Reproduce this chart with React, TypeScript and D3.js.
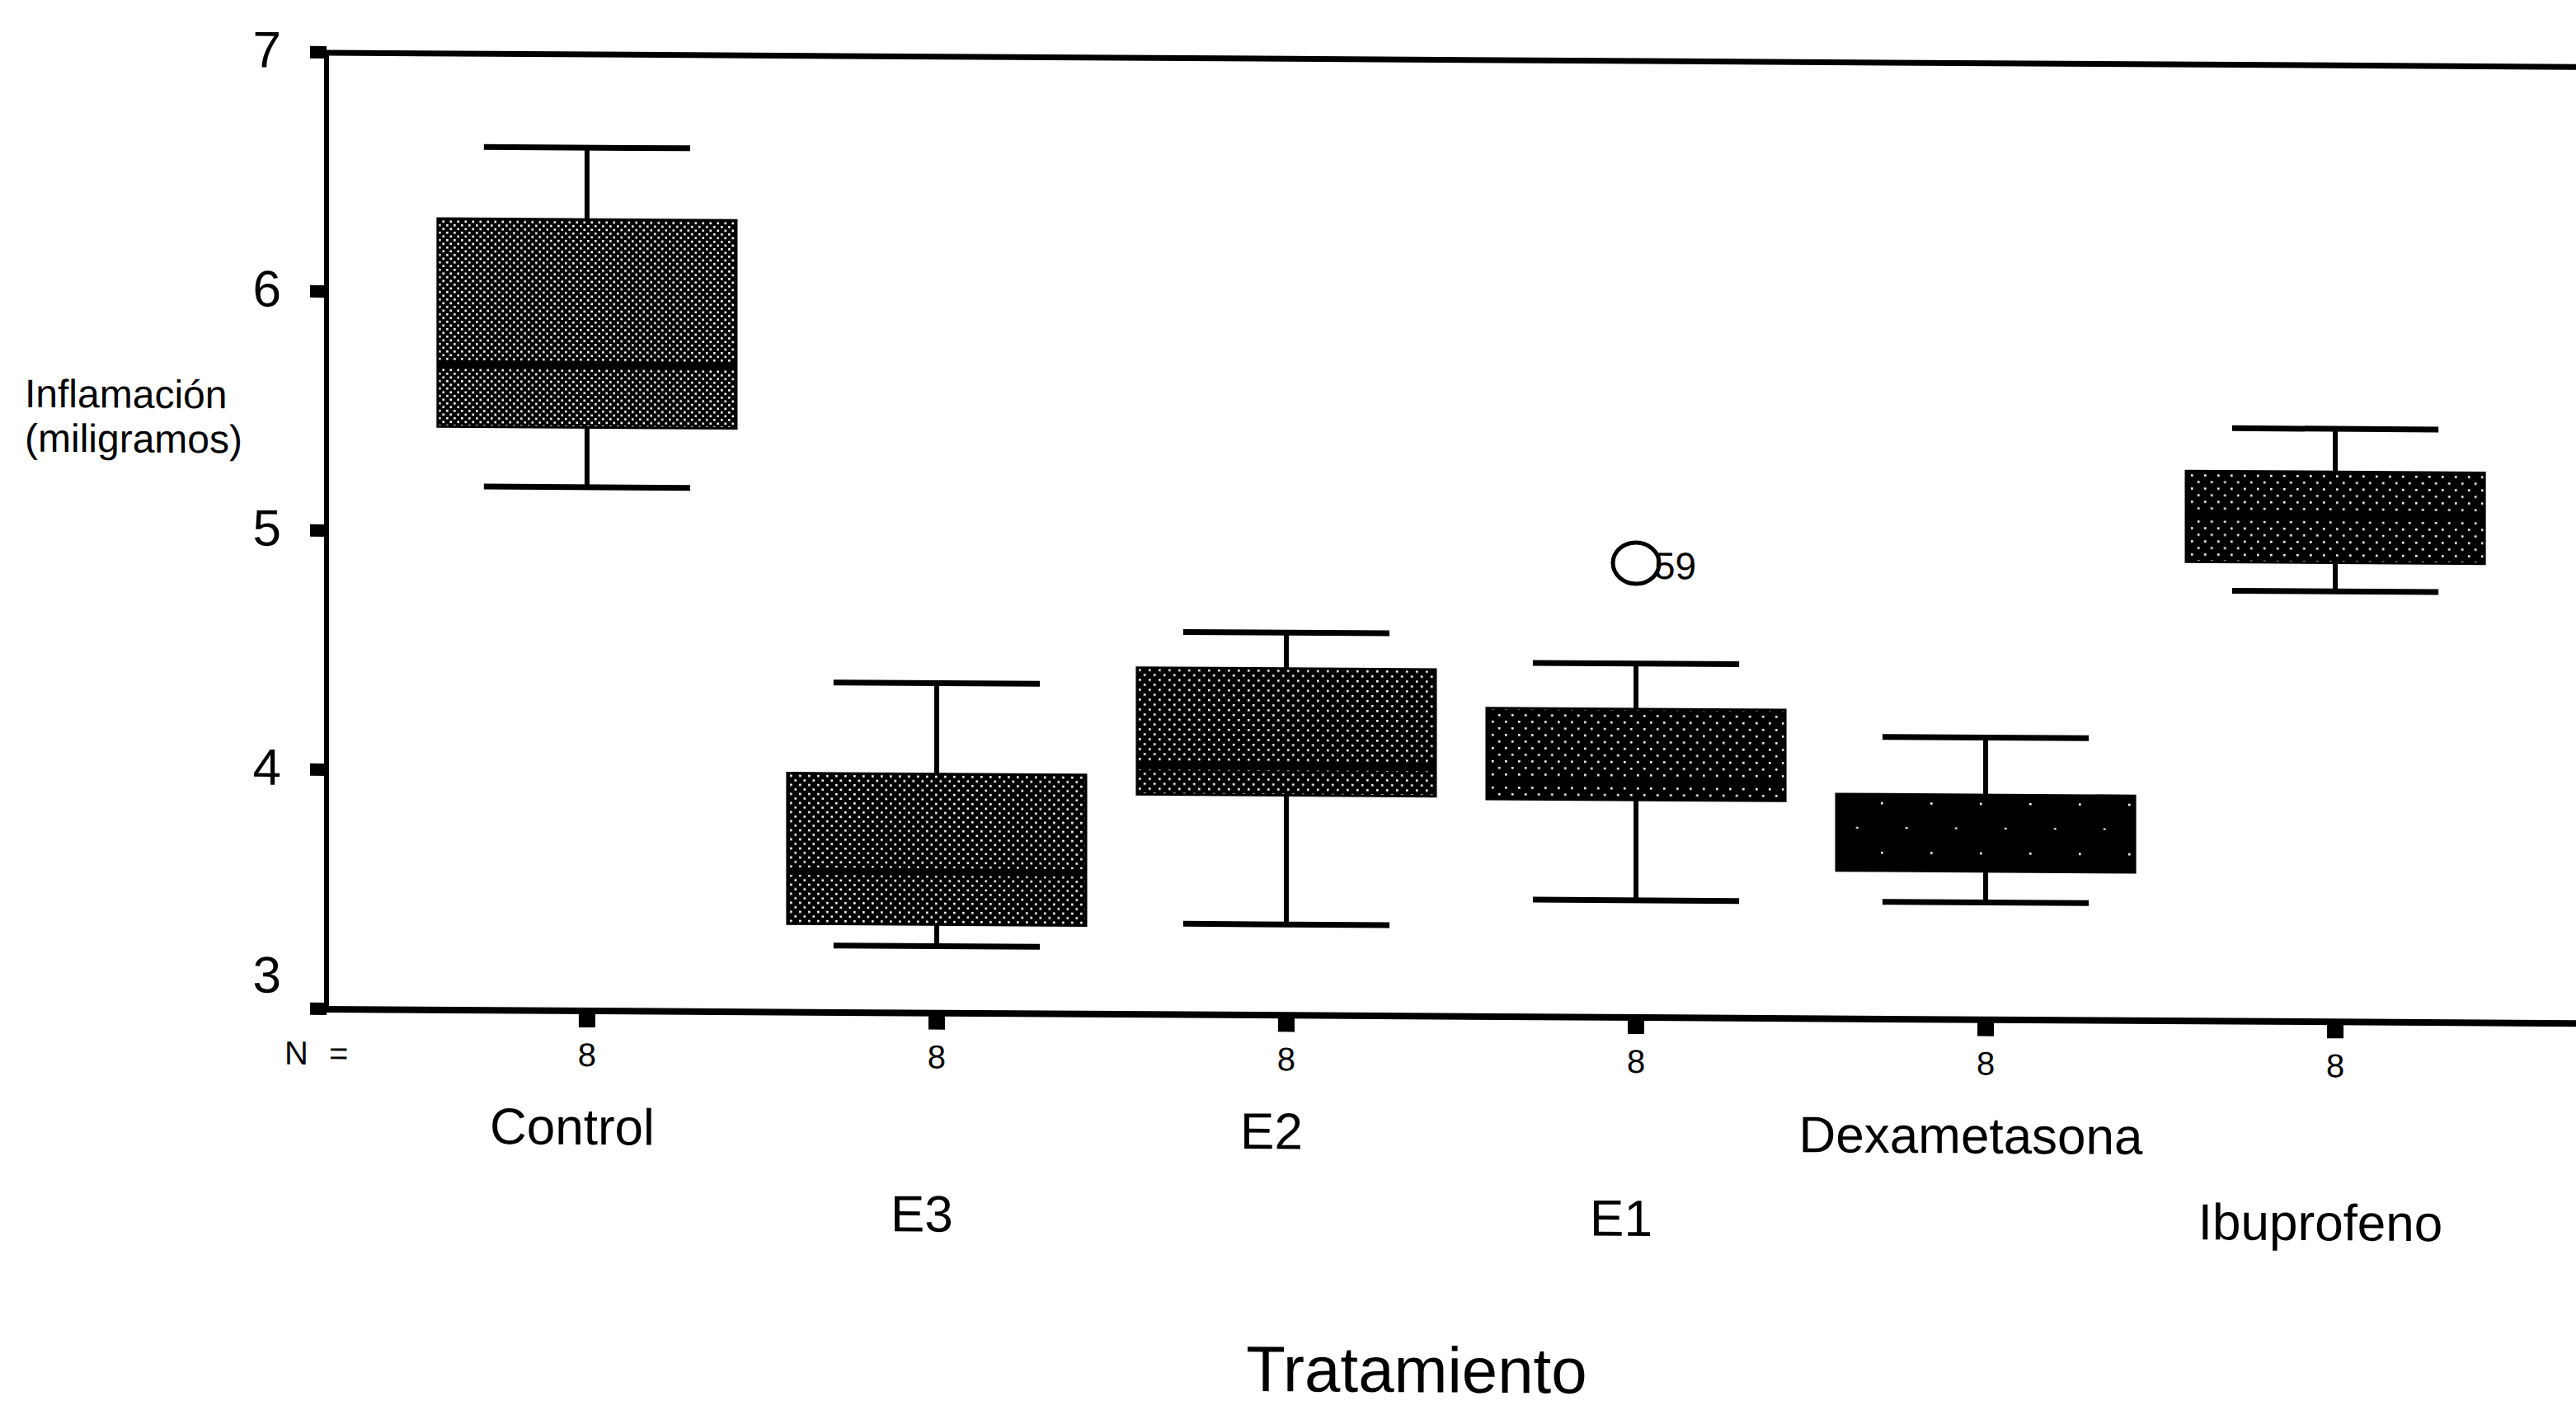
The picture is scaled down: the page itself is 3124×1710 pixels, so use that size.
import React from 'react'
import { scaleLinear, scalePoint } from 'd3'

// SPSS boxplot, Inflamación por Tratamiento
const categories = ['Control', 'E3', 'E2', 'E1', 'Dexametasona', 'Ibuprofeno']
const whiskerHigh = [6.61, 4.38, 4.6, 4.48, 4.18, 5.48]
const q3 = [6.31, 4.0, 4.45, 4.29, 3.94, 5.3]
const medians = [5.7, 3.59, 4.04, 3.99, 3.78, 5.11]
const q1 = [5.44, 3.37, 3.92, 3.91, 3.62, 4.92]
const whiskerLow = [5.19, 3.28, 3.38, 3.49, 3.49, 4.8]
const counts = [8, 8, 8, 8, 8, 8]
const outlierCategory = ['E1']
const outlierValue = [4.9]
const outlierLabel = ['59']
const yTicks = [3, 4, 5, 6, 7]

// stipple spacing per box (scan texture)
const boxStipple = [9, 11, 12, 16, 60, 16]

const font = '"Liberation Sans", Arial, Helvetica, sans-serif'

const App = () => {
  const width = 3124
  const height = 1710
  const left = 396
  const top = 64
  const bottom = 1224

  const x = scalePoint<string>().domain(categories).range([left, 3148]).padding(0.745)
  const y = scaleLinear().domain([3, 7]).range([bottom, top])
  const step = x.step()
  const boxW = step * 0.854
  const capW = step * 0.59

  return (
    <svg
      width={width}
      height={height}
      style={{ position: 'absolute', left: 0, top: 0, background: '#fff' }}
      fontFamily={font}
    >
      <defs>
        {boxStipple.map((s, i) => (
          <pattern key={i} id={`stip${i}`} width={s} height={s} patternUnits="userSpaceOnUse">
            <rect width={s} height={s} fill="#000" />
            <rect x={1} y={1} width={2.6} height={2.6} fill="#fff" />
            <rect x={s / 2 + 1} y={s / 2 + 1} width={2.6} height={2.6} fill="#fff" />
          </pattern>
        ))}
      </defs>
      <rect width={width} height={height} fill="#fff" />
      <g transform={`translate(${left},${top}) skewY(0.36) translate(${-left},${-top})`}>
        {/* frame */}
        <line x1={left} x2={3150} y1={top} y2={top} stroke="#000" strokeWidth={7} />
        <line x1={left - 3} x2={3150} y1={bottom} y2={bottom} stroke="#000" strokeWidth={8} />
        <line x1={left} x2={left} y1={top} y2={bottom} stroke="#000" strokeWidth={6} />

        {/* y ticks */}
        {yTicks.map((t, i) => (
          <g key={t}>
            <rect x={left - 20} y={y(t) - 8} width={20} height={15} fill="#000" />
            <text
              x={341}
              y={i === 0 ? y(t) - 20 : y(t) + 18}
              fontSize={62}
              textAnchor="end"
              fill="#000"
            >
              {t}
            </text>
          </g>
        ))}

        {/* y title */}
        <text x={30} y={496} fontSize={48} fill="#000">Inflamación</text>
        <text x={30} y={550} fontSize={48} fill="#000">(miligramos)</text>

        {/* boxes */}
        {categories.map((c, i) => {
          const cx = x(c) as number
          return (
            <g key={c}>
              <line x1={cx} x2={cx} y1={y(q3[i])} y2={y(whiskerHigh[i])} stroke="#000" strokeWidth={6} />
              <line x1={cx} x2={cx} y1={y(q1[i])} y2={y(whiskerLow[i])} stroke="#000" strokeWidth={6} />
              <line x1={cx - capW / 2} x2={cx + capW / 2} y1={y(whiskerHigh[i])} y2={y(whiskerHigh[i])} stroke="#000" strokeWidth={7} />
              <line x1={cx - capW / 2} x2={cx + capW / 2} y1={y(whiskerLow[i])} y2={y(whiskerLow[i])} stroke="#000" strokeWidth={7} />
              <rect
                x={cx - boxW / 2}
                y={y(q3[i])}
                width={boxW}
                height={y(q1[i]) - y(q3[i])}
                fill={`url(#stip${i})`}
                stroke="#000"
                strokeWidth={3}
              />
              <line x1={cx - boxW / 2} x2={cx + boxW / 2} y1={y(medians[i])} y2={y(medians[i])} stroke="#000" strokeWidth={9} />

              {/* x tick and N */}
              <rect x={cx - 10} y={bottom} width={20} height={20} fill="#000" />
              <text x={cx} y={1291} fontSize={40} textAnchor="middle" fill="#000">{counts[i]}</text>
              <text x={cx - 18} y={i % 2 === 0 ? 1386 : 1489} fontSize={62} textAnchor="middle" fill="#000">
                {c}
              </text>
            </g>
          )
        })}

        {/* outliers */}
        {outlierCategory.map((c, i) => {
          const cx = x(c) as number
          const cy = y(outlierValue[i])
          return (
            <g key={c}>
              <text x={cx + 22} y={cy + 19} fontSize={46} fill="#000">{outlierLabel[i]}</text>
              <ellipse cx={cx} cy={cy} rx={28} ry={25} fill="none" stroke="#000" strokeWidth={5} />
            </g>
          )
        })}

        <text x={345} y={1291} fontSize={40} fill="#000" style={{ wordSpacing: 14 }}>N =</text>

        <text x={1718} y={1680} fontSize={78} textAnchor="middle" fill="#000">Tratamiento</text>
      </g>
    </svg>
  )
}

export default App
